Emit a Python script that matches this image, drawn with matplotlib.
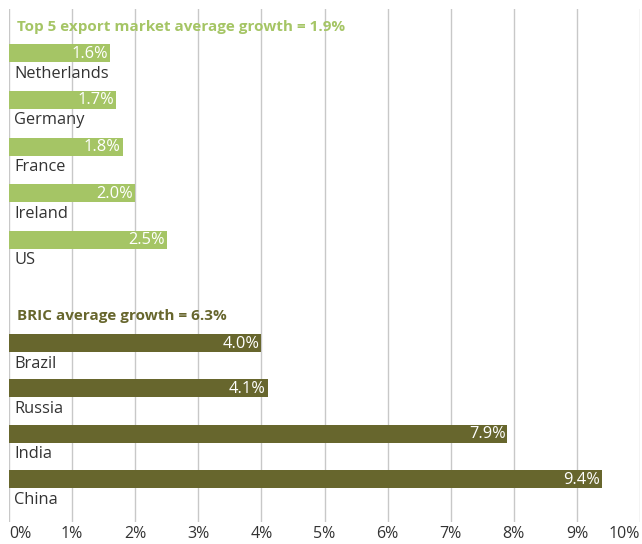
import numpy as np
import matplotlib.pyplot as plt

plt.rcParams['font.family'] = ['Open Sans', 'DejaVu Sans']

# data
top5_names = ['Netherlands', 'Germany', 'France', 'Ireland', 'US']
top5_vals = [1.6, 1.7, 1.8, 2.0, 2.5]
bric_names = ['Brazil', 'Russia', 'India', 'China']
bric_vals = [4.0, 4.1, 7.9, 9.4]
top5_title = 'Top 5 export market average growth = 1.9%'
bric_title = 'BRIC average growth = 6.3%'
xticks = list(range(0, 11))

light = '#a5c565'
dark = '#67662d'
txt = '#333333'

fig = plt.figure(figsize=(6.42, 5.44), dpi=100)
ax = fig.add_axes([9/642, 22/544, 631/642, 513/544])

# y layout in pixel-like units (inverted axis)
top_y = 53 + 46.75*np.arange(len(top5_vals))
bric_y = 343 + 45.4*np.arange(len(bric_vals))
bh = 18

ax.barh(top_y, top5_vals, height=bh, color=light, zorder=3)
ax.barh(bric_y, bric_vals, height=bh, color=dark, zorder=3)

for y, v, n in zip(list(top_y)+list(bric_y), top5_vals+bric_vals, top5_names+bric_names):
    ax.text(v - 0.03, y + 0.5, '%.1f%%' % v, ha='right', va='center',
            color='white', fontsize=11.8, zorder=4)
    ax.text(0.08, y + 20.5, n, ha='left', va='center', color=txt,
            fontsize=11.8, zorder=4)

ax.text(0.13, 27, top5_title, ha='left', va='center', color=light,
        fontsize=11, fontweight='bold')
ax.text(0.13, 316, bric_title, ha='left', va='center', color=dark,
        fontsize=11, fontweight='bold')

ax.set_xlim(0, 10)
ax.set_ylim(522, 9)
ax.set_xticks(xticks)
ax.set_xticklabels(['%d%%' % t for t in xticks], color=txt, fontsize=11.5)
labs = ax.get_xticklabels()
labs[0].set_ha('left')
labs[-1].set_ha('right')
ax.tick_params(axis='x', length=0, pad=3)
ax.set_yticks([])
ax.grid(axis='x', color='#c8c8c8', linewidth=1, zorder=0)
for s in ax.spines.values():
    s.set_visible(False)

fig.savefig('out.png', dpi=100)
